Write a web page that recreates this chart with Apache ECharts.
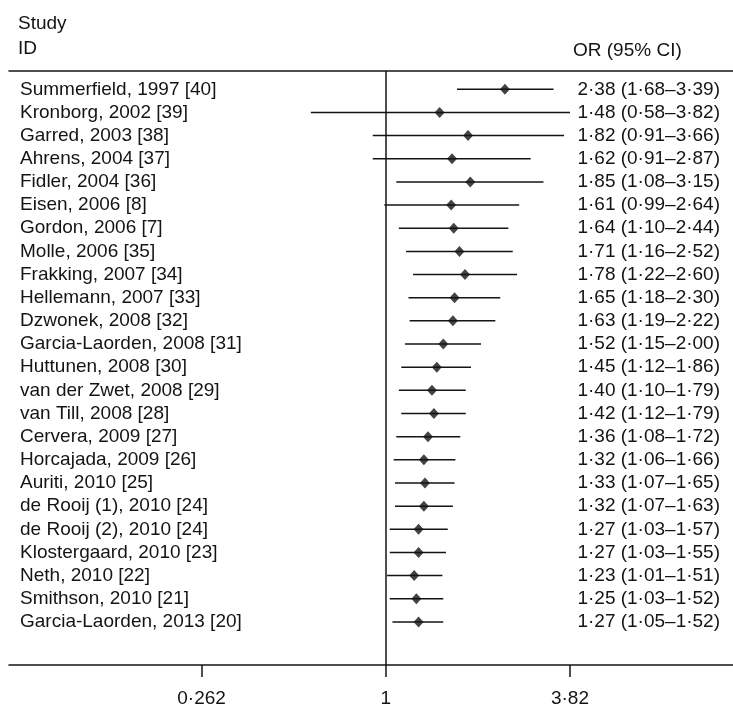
<!DOCTYPE html>
<html>
<head>
<meta charset="utf-8">
<script src="https://cdn.jsdelivr.net/npm/echarts@6/dist/echarts.min.js"></script>
<style>
  html, body { margin: 0; padding: 0; background: #fff; }
  #chart { width: 733px; height: 705px; }
</style>
</head>
<body>
<div id="chart"></div>
<script>
const studies = [
  "Summerfield, 1997 [40]", "Kronborg, 2002 [39]", "Garred, 2003 [38]", "Ahrens, 2004 [37]",
  "Fidler, 2004 [36]", "Eisen, 2006 [8]", "Gordon, 2006 [7]", "Molle, 2006 [35]",
  "Frakking, 2007 [34]", "Hellemann, 2007 [33]", "Dzwonek, 2008 [32]", "Garcia-Laorden, 2008 [31]",
  "Huttunen, 2008 [30]", "van der Zwet, 2008 [29]", "van Till, 2008 [28]", "Cervera, 2009 [27]",
  "Horcajada, 2009 [26]", "Auriti, 2010 [25]", "de Rooij (1), 2010 [24]", "de Rooij (2), 2010 [24]",
  "Klostergaard, 2010 [23]", "Neth, 2010 [22]", "Smithson, 2010 [21]", "Garcia-Laorden, 2013 [20]"
];
const orValues = [2.38, 1.48, 1.82, 1.62, 1.85, 1.61, 1.64, 1.71, 1.78, 1.65, 1.63, 1.52,
  1.45, 1.40, 1.42, 1.36, 1.32, 1.33, 1.32, 1.27, 1.27, 1.23, 1.25, 1.27];
const ciLow = [1.68, 0.58, 0.91, 0.91, 1.08, 0.99, 1.10, 1.16, 1.22, 1.18, 1.19, 1.15,
  1.12, 1.10, 1.12, 1.08, 1.06, 1.07, 1.07, 1.03, 1.03, 1.01, 1.03, 1.05];
const ciHigh = [3.39, 3.82, 3.66, 2.87, 3.15, 2.64, 2.44, 2.52, 2.60, 2.30, 2.22, 2.00,
  1.86, 1.79, 1.79, 1.72, 1.66, 1.65, 1.63, 1.57, 1.55, 1.51, 1.52, 1.52];
const tickValues = [0.262, 1, 3.82];
const tickLabels = ["0·262", "1", "3·82"];

const FONT = '"Liberation Sans", Arial, Helvetica, sans-serif';
const INK = "#141414";
const fmt = (v) => v.toFixed(2).replace(".", "·");

const tickLn = tickValues.map((v) => Math.log(v));
const ciData = studies.map((s, i) => [i, Math.log(ciLow[i]), Math.log(ciHigh[i])]);
const pointData = studies.map((s, i) => [Math.log(orValues[i]), i]);

const chart = echarts.init(document.getElementById("chart"));

const xRange = { min: -2.74, max: 2.526 };

chart.setOption({
  animation: false,
  backgroundColor: "#fff",
  grid: { left: 9, right: 0, top: 71, bottom: 40, containLabel: false, outerBoundsMode: "none" },
  xAxis: [
    {
      type: "value",
      position: "bottom",
      ...xRange,
      splitLine: { show: false },
      axisLine: { onZero: false, lineStyle: { color: INK, width: 1.5 } },
      axisTick: { customValues: tickLn, length: 12, lineStyle: { color: INK, width: 1.5 } },
      axisLabel: {
        customValues: tickLn,
        margin: 24,
        color: INK,
        fontSize: 19,
        fontFamily: FONT,
        formatter: (v) => {
          const k = tickLn.findIndex((t) => Math.abs(t - v) < 1e-6);
          return k >= 0 ? tickLabels[k] : "";
        },
      },
    },
    {
      type: "value",
      position: "top",
      ...xRange,
      splitLine: { show: false },
      axisLine: { onZero: false, lineStyle: { color: INK, width: 1.5 } },
      axisTick: { show: false },
      axisLabel: { show: false },
    },
  ],
  yAxis: {
    type: "value",
    inverse: true,
    min: -0.79,
    max: 24.86,
    show: false,
    splitLine: { show: false },
  },
  graphic: [
    { type: "text", left: 18, top: 14, style: { text: "Study", fontSize: 19, fontFamily: FONT, fill: INK } },
    { type: "text", left: 18, top: 39, style: { text: "ID", fontSize: 19, fontFamily: FONT, fill: INK } },
    { type: "text", left: 573, top: 41, style: { text: "OR (95% CI)", fontSize: 19, fontFamily: FONT, fill: INK } },
  ],
  series: [
    {
      // confidence interval whiskers
      type: "custom",
      data: ciData,
      encode: { x: [1, 2], y: 0 },
      renderItem: (params, api) => {
        const row = api.value(0);
        const a = api.coord([api.value(1), row]);
        const b = api.coord([api.value(2), row]);
        return {
          type: "line",
          shape: { x1: a[0], y1: a[1], x2: b[0], y2: b[1] },
          style: { stroke: INK, lineWidth: 1.5 },
        };
      },
      z: 2,
    },
    {
      // study names and OR text columns
      type: "custom",
      data: studies.map((s, i) => [0, i]),
      encode: { x: 0, y: 1 },
      renderItem: (params, api) => {
        const i = params.dataIndex;
        const y = api.coord([0, api.value(1)])[1];
        const left = params.coordSys.x;
        return {
          type: "group",
          children: [
            {
              type: "text",
              style: {
                text: studies[i], x: left + 11, y: y,
                fontSize: 19, fontFamily: FONT, fill: INK,
                align: "left", verticalAlign: "middle",
              },
            },
            {
              type: "text",
              style: {
                text: fmt(orValues[i]) + " (" + fmt(ciLow[i]) + "–" + fmt(ciHigh[i]) + ")",
                x: 720, y: y,
                fontSize: 19, fontFamily: FONT, fill: INK,
                align: "right", verticalAlign: "middle",
              },
            },
          ],
        };
      },
      z: 3,
    },
    {
      type: "scatter",
      data: pointData,
      symbol: "diamond",
      symbolSize: [10, 11],
      itemStyle: { color: INK },
      z: 4,
      markLine: {
        silent: true,
        symbol: "none",
        label: { show: false },
        lineStyle: { color: INK, width: 1.5, type: "solid" },
        data: [{ xAxis: 0 }],
      },
    },
  ],
});
</script>
</body>
</html>
